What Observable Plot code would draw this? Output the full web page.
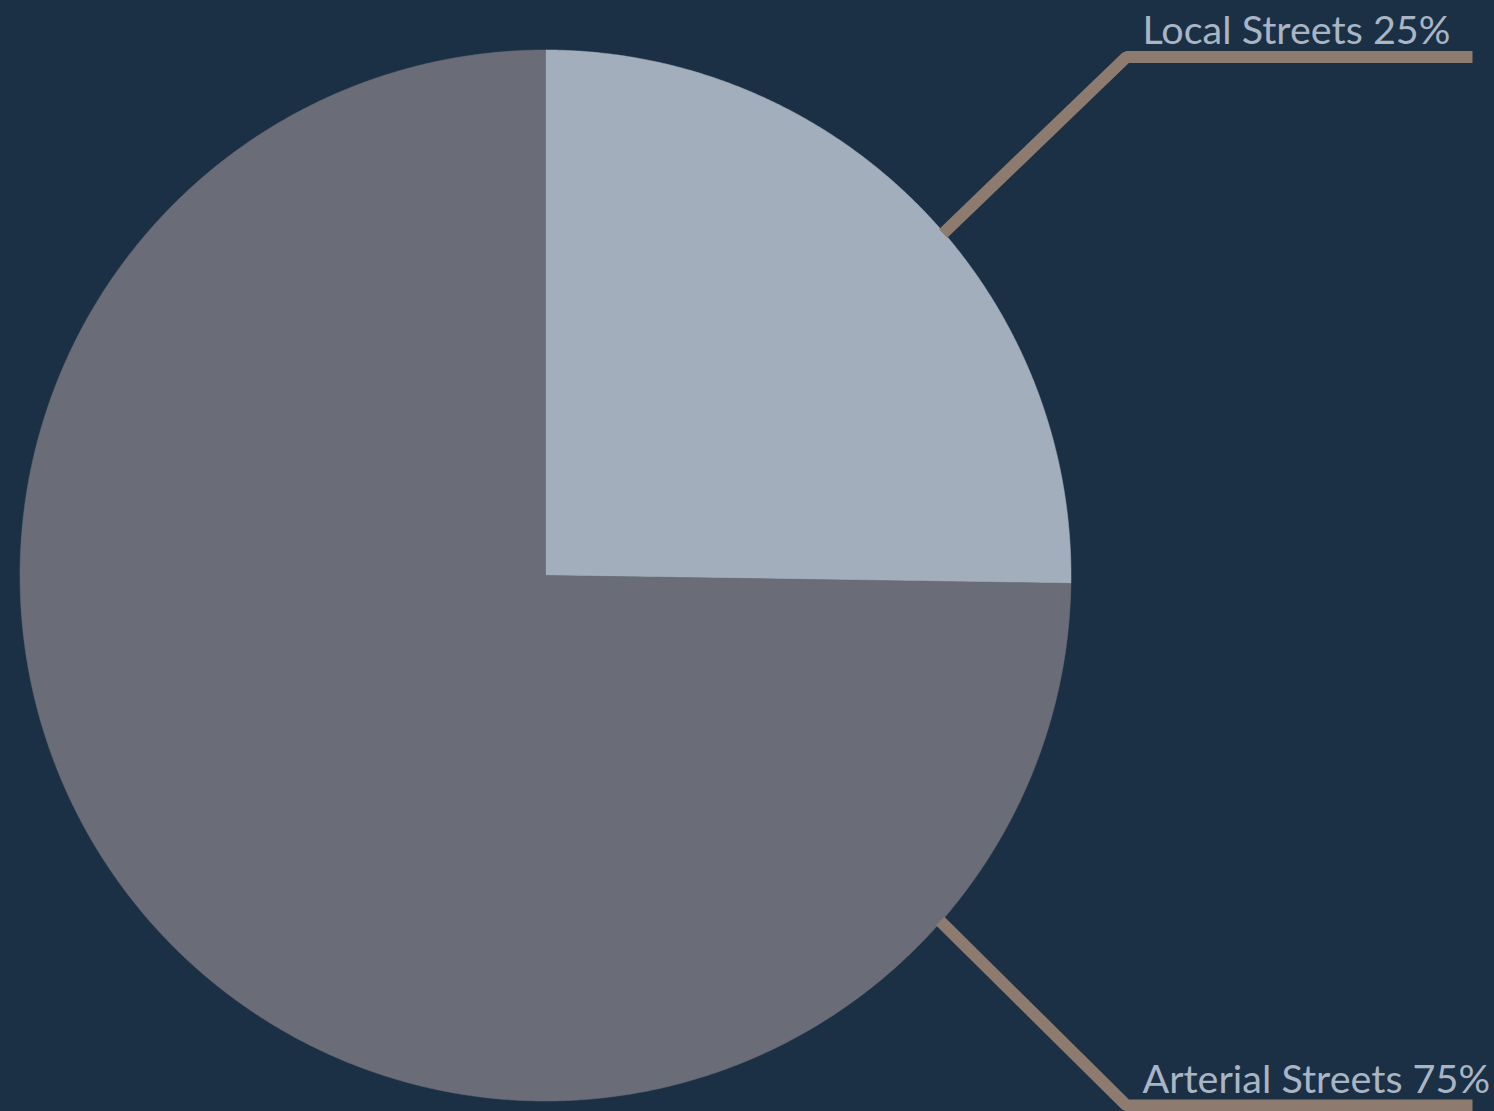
<!DOCTYPE html>
<html>
<head>
<meta charset="utf-8">
<script src="https://cdn.jsdelivr.net/npm/d3@7"></script>
<script src="https://cdn.jsdelivr.net/npm/@observablehq/plot@0.6"></script>
<style>
  html, body { margin: 0; padding: 0; background: #1c3045; }
  #chart svg { display: block; }
</style>
</head>
<body>
<div id="chart"></div>
<script>
// ---- data ----
const categories = ["Local Streets", "Arterial Streets"];
const values = [25.24, 74.76];
const labelTexts = ["Local Streets 25%", "Arterial Streets 75%"];

// ---- layout ----
const W = 1494, H = 1111;
const cx = 545, cy = 575, R = 525.5;
const sliceColors = ["#a2aebc", "#6a6d77"];
const anchorAngles = [49.3, 131.2];      // degrees clockwise from 12 o'clock
const labelBaselines = [56.5, 1105];     // leader horizontal y
const elbowX = 1126, lineEndX = 1472, labelX = 1142;

const pie = d3.pie().sort(null).value(d => d.value)(
  categories.map((c, i) => ({category: c, value: values[i]}))
);

// polygon points for each slice
const slicePts = [];
for (const s of pie) {
  const n = Math.max(2, Math.ceil((s.endAngle - s.startAngle) / 0.005));
  slicePts.push({category: s.data.category, x: cx, y: cy});
  for (let k = 0; k <= n; k++) {
    const a = s.startAngle + (s.endAngle - s.startAngle) * k / n;
    slicePts.push({category: s.data.category, x: cx + R * Math.sin(a), y: cy - R * Math.cos(a)});
  }
  slicePts.push({category: s.data.category, x: cx, y: cy});
}

// leader lines
const leaderPts = [];
categories.forEach((c, i) => {
  const a = anchorAngles[i] * Math.PI / 180;
  const ax = cx + (R - 1) * Math.sin(a), ay = cy - (R - 1) * Math.cos(a);
  const ly = labelBaselines[i];
  leaderPts.push({category: c, x: ax, y: ay});
  leaderPts.push({category: c, x: elbowX, y: ly});
  leaderPts.push({category: c, x: lineEndX, y: ly});
});

const labelData = categories.map((c, i) => ({
  category: c, text: labelTexts[i], x: labelX, y: labelBaselines[i] - 13
}));

const chart = Plot.plot({
  width: W, height: H,
  margin: 0,
  style: {background: "#1c3045"},
  x: {domain: [0, W], range: [0, W], axis: null},
  y: {domain: [0, H], range: [0, H], axis: null},
  color: {domain: categories, range: sliceColors},
  marks: [
    Plot.line(slicePts, {x: "x", y: "y", z: "category", fill: "category", stroke: "category", strokeWidth: 0.5, curve: "linear"}),
    Plot.line(leaderPts, {x: "x", y: "y", z: "category", stroke: "#8c7b6e", strokeWidth: 12, strokeLinejoin: "miter", strokeLinecap: "butt"}),
    Plot.text(labelData, {x: "x", y: "y", text: "text", textAnchor: "start", lineAnchor: "bottom", fill: "#a9b5c5", fontSize: 39.5, fontFamily: "Lato", fontWeight: 400})
  ]
});
document.getElementById("chart").append(chart);
</script>
</body>
</html>
